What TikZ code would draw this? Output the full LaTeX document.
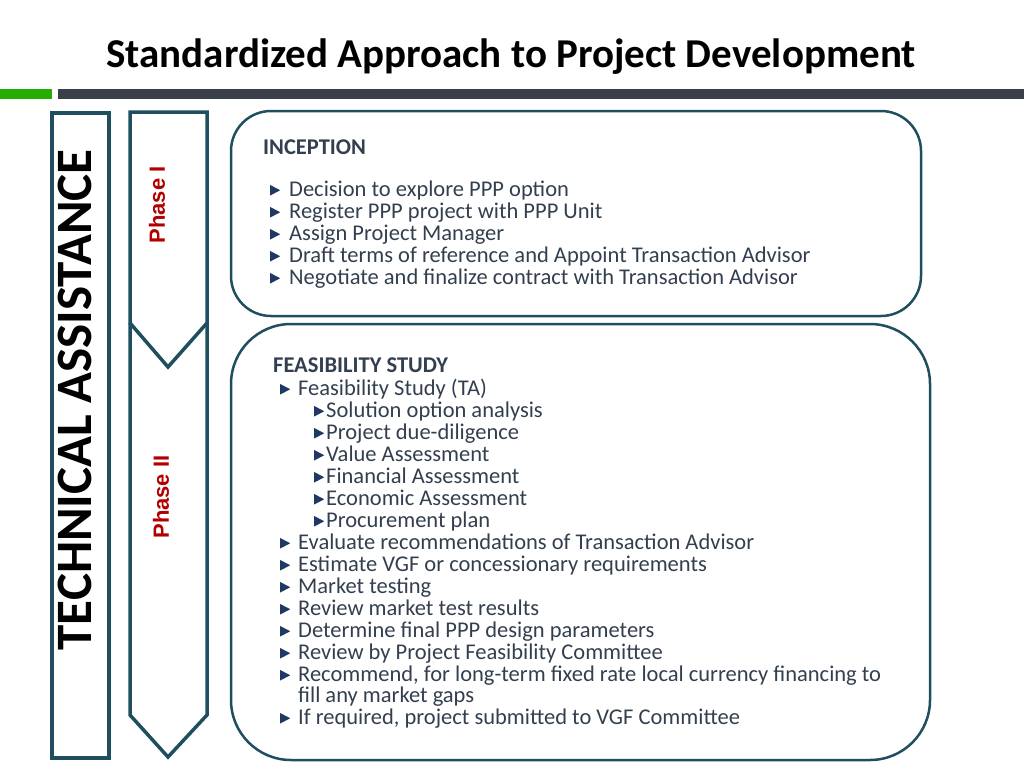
\documentclass[tikz,border=0pt]{standalone}
\usepackage{fontspec}
\setmainfont{Carlito}
\newfontfamily\arialf{Liberation Sans}
\begin{document}
\definecolor{teal}{HTML}{1F4E5F}
\definecolor{txt}{HTML}{333F4F}
\definecolor{bul}{HTML}{1F3864}
\definecolor{darkbar}{HTML}{3A4049}
\newcommand{\tri}{\tikz[baseline=0pt]\fill[bul](0,0.5pt)--(0,11pt)--(10pt,5.75pt)--cycle;}
\begin{tikzpicture}[x=1pt,y=-1pt,
  frame/.style={draw=teal,line width=4pt},
  rbox/.style={draw=teal,line width=2.5pt},
  t/.style={anchor=base west,inner sep=0pt,text=txt,font=\fontsize{22.5}{26}\selectfont},
  ph/.style={rotate=90,text=red!70!black,font=\arialf\bfseries\fontsize{22}{24}\selectfont}]
\useasboundingbox (0,0) rectangle (1024,768);
\node[font=\bfseries\fontsize{41}{44}\selectfont] (title) at (511,57) {Standardized Approach to Project Development};
\fill[green!60!black!80!lime] (0,89) rectangle (52,99);
\fill[darkbar] (58,89) rectangle (1024,99);
\draw[frame] (52,113) rectangle (109,758);
\node[rotate=90,font=\bfseries\fontsize{51}{54}\selectfont] (ta) at (75,400) {TECHNICAL ASSISTANCE};
\draw[frame,line width=3.5pt,line join=miter] (130,112)--(207,112)--(207,323)--(168,367)--(130,323)--cycle;
\draw[frame,line width=3.5pt,line join=miter] (130,323)--(130,715)--(168,757)--(207,715)--(207,323);
\node[ph] (p1) at (157,205) {Phase I};
\node[ph] (p2) at (161,497) {Phase II};
\draw[rbox,rounded corners=40pt] (231,111) rectangle (921,316);
\draw[rbox,rounded corners=60pt] (231,324) rectangle (930,760);
\node[t,font=\bfseries\fontsize{22.5}{26}\selectfont] (h1) at (263,154) {INCEPTION};
\foreach \y/\s in {196/Decision to explore PPP option,218/Register PPP project with PPP Unit,240/Assign Project Manager,262/Draft terms of reference and Appoint Transaction Advisor,284/Negotiate and finalize contract with Transaction Advisor}
  \node[t] at (270,\y) {\tri\hspace{9pt}\s};
\node[t,font=\bfseries\fontsize{22.5}{26}\selectfont] (h2) at (273,372) {FEASIBILITY STUDY};
\node[t] at (280,395) {\tri\hspace{8pt}Feasibility Study (TA)};
\foreach \y/\s in {417/Solution option analysis,439/Project due-diligence,461/Value Assessment,483/Financial Assessment,505/Economic Assessment,527/Procurement plan}
  \node[t] at (314,\y) {\tri\hspace{2pt}\s};
\foreach \y/\s in {549/Evaluate recommendations of Transaction Advisor,571/Estimate VGF or concessionary requirements,593/Market testing,615/Review market test results,637/Determine final PPP design parameters,659/Review by Project Feasibility Committee,681/{Recommend, for long-term fixed rate local currency financing to},724/{If required, project submitted to VGF Committee}}
  \node[t] at (280,\y) {\tri\hspace{8pt}\s};
\node[t] at (298,702) {fill any market gaps};
\end{tikzpicture}
\end{document}
